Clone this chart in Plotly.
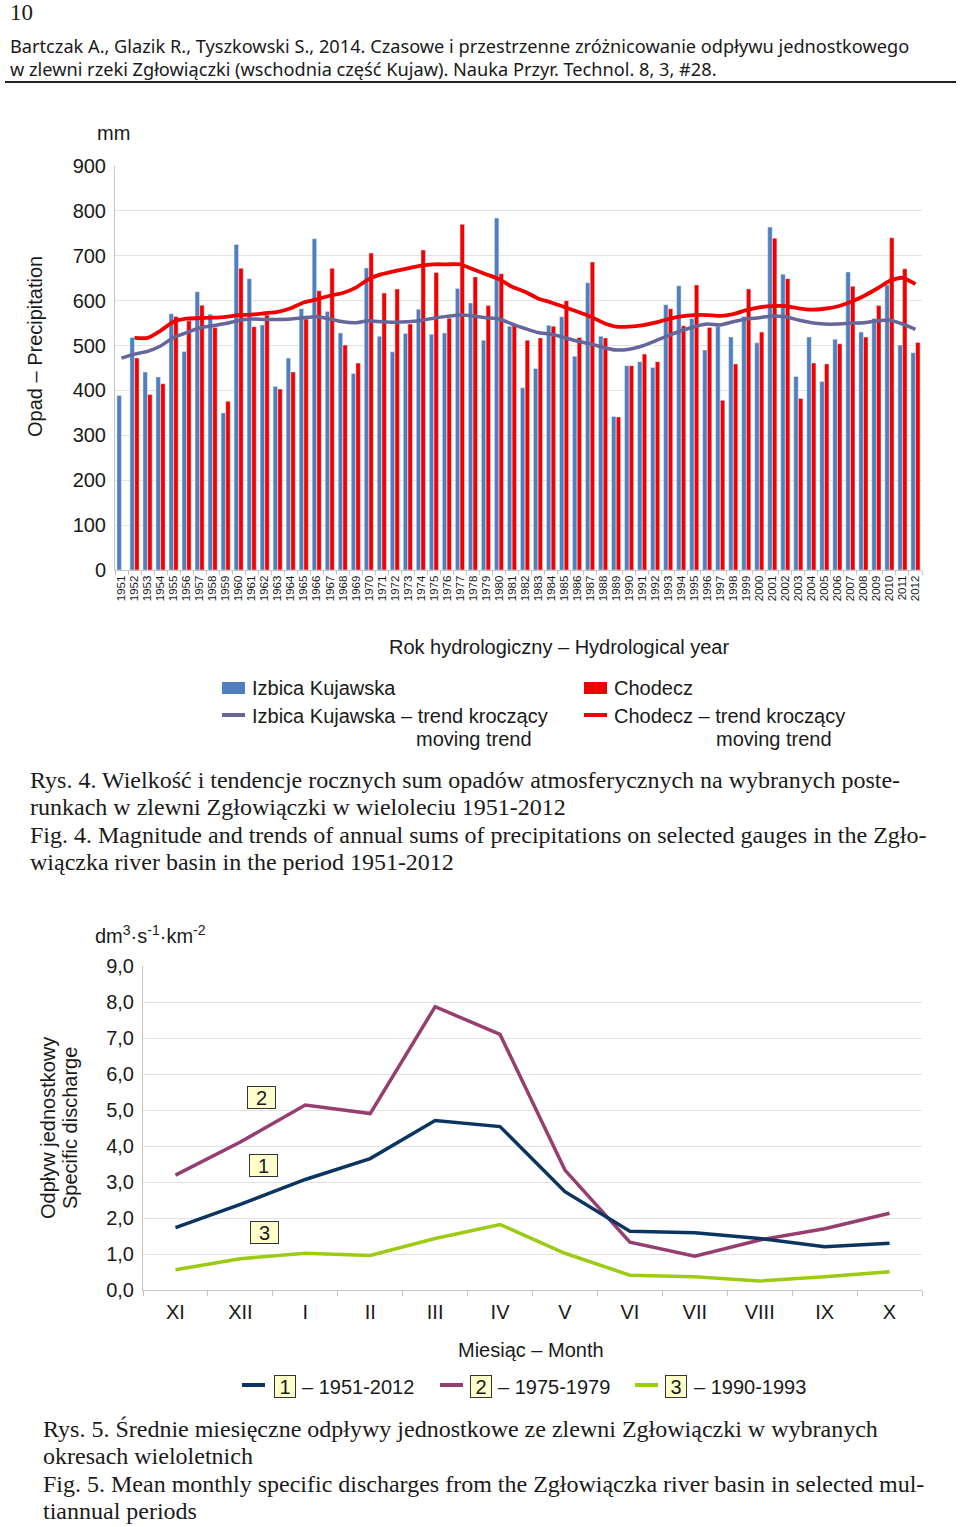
import plotly.graph_objects as go

W, H = 960, 1527

# ---------------- data: Fig. 4 ----------------
years = list(range(1951, 2013))
izbica = [389, 518, 441, 430, 571, 487, 620, 570, 350, 725,
          649, 546, 409, 472, 582, 738, 576, 528, 438, 673,
          521, 486, 527, 581, 525, 528, 627, 595, 512, 784,
          543, 406, 449, 545, 564, 476, 640, 521, 342, 455,
          464, 451, 591, 633, 560, 490, 543, 519, 565, 506,
          764, 659, 431, 519, 420, 514, 664, 530, 560, 635,
          501, 484]
chodecz = [None, 472, 391, 415, 565, 555, 590, 540, 376, 672,
           542, 568, 403, 441, 559, 622, 672, 501, 461, 706,
           617, 626, 548, 713, 663, 561, 770, 653, 589, 660,
           545, 512, 517, 543, 600, 518, 686, 517, 341, 455,
           481, 464, 582, 544, 635, 540, 378, 459, 626, 530,
           739, 649, 382, 461, 459, 504, 632, 519, 589, 740,
           671, 507]
izbica_trend = [472, 481, 487, 499, 518, 529, 539, 544, 549, 556,
                559, 558, 558, 559, 562, 564, 559, 553, 551, 555,
                553, 552, 553, 556, 561, 565, 568, 566, 562, 559,
                548, 538, 529, 525, 518, 510, 504, 496, 490, 492,
                499, 510, 522, 533, 542, 548, 546, 553, 559, 562,
                566, 564, 557, 551, 548, 548, 550, 551, 555, 557,
                548, 536]
chodecz_trend = [None, 517, 517, 533, 553, 560, 561, 562, 564, 568,
                 569, 572, 575, 583, 596, 603, 611, 617, 629, 648,
                 659, 666, 672, 678, 681, 681, 681, 670, 659, 648,
                 631, 620, 605, 596, 586, 576, 565, 551, 542, 542,
                 545, 551, 559, 565, 568, 568, 566, 570, 579, 585,
                 588, 588, 583, 580, 582, 587, 597, 610, 626, 644,
                 651, 637]

# ---------------- data: Fig. 5 ----------------
months = ["XI", "XII", "I", "II", "III", "IV", "V", "VI", "VII", "VIII", "IX", "X"]
q_1951_2012 = [1.73, 2.38, 3.07, 3.65, 4.71, 4.54, 2.73, 1.63, 1.59, 1.43, 1.20, 1.30]
q_1975_1979 = [3.19, 4.11, 5.14, 4.90, 7.87, 7.10, 3.33, 1.33, 0.94, 1.39, 1.70, 2.13]
q_1990_1993 = [0.56, 0.87, 1.02, 0.96, 1.43, 1.82, 1.02, 0.41, 0.37, 0.25, 0.37, 0.51]
y2_ticks = [0, 1, 2, 3, 4, 5, 6, 7, 8, 9]
y2_ticktext = ["0,0", "1,0", "2,0", "3,0", "4,0", "5,0", "6,0", "7,0", "8,0", "9,0"]

# ---------------- styling ----------------
C_BLUE = "#4f7fbf"
C_RED = "#f00000"
C_BTREND = "#65669a"
C_NAVY = "#0b3560"
C_PURPLE = "#963e6e"
C_GREEN = "#9dcb14"
SANS = "Liberation Sans, Arial, sans-serif"
SERIF = "Liberation Serif, Times New Roman, serif"
HDR = "Noto Sans, DejaVu Sans, sans-serif"
TXT = "#1a1a1a"
FS = 20        # chart text size
FCAP = 24      # caption size


def px(x):
    return x / W


def py(y):
    return 1 - y / H


fig = go.Figure()

# Fig. 4 traces
fig.add_trace(go.Bar(x=years, y=izbica, marker_color=C_BLUE, name="Izbica Kujawska",
                     xaxis="x", yaxis="y"))
fig.add_trace(go.Bar(x=years, y=chodecz, marker_color=C_RED, name="Chodecz",
                     xaxis="x", yaxis="y"))
fig.add_trace(go.Scatter(x=years, y=izbica_trend, mode="lines",
                         line=dict(color=C_BTREND, width=3.5, shape="spline", smoothing=0.6),
                         xaxis="x", yaxis="y"))
fig.add_trace(go.Scatter(x=years, y=chodecz_trend, mode="lines",
                         line=dict(color=C_RED, width=3.8, shape="spline", smoothing=0.6),
                         xaxis="x", yaxis="y"))

# Fig. 5 traces
mx = list(range(len(months)))
for ys, col in [(q_1975_1979, C_PURPLE), (q_1951_2012, C_NAVY), (q_1990_1993, C_GREEN)]:
    fig.add_trace(go.Scatter(x=mx, y=ys, mode="lines", line=dict(color=col, width=3.5),
                             xaxis="x2", yaxis="y2"))

GRID = "#e2e2e2"
AXL = "#c4c4c4"

fig.update_layout(
    width=W, height=H, margin=dict(l=0, r=0, t=0, b=0, autoexpand=False),
    paper_bgcolor="white", plot_bgcolor="white", showlegend=False,
    barmode="group", bargap=0.28, bargroupgap=0.05,
    font=dict(family=SANS, color=TXT),
    xaxis=dict(domain=[px(115), px(922)], anchor="y", range=[1950.5, 2012.5],
               tickmode="array", tickvals=years, ticktext=[str(y) for y in years],
               tickangle=-90, tickfont=dict(size=11.5, color=TXT), ticks="",
               showline=True, linecolor=AXL, linewidth=1, showgrid=False, zeroline=False,
               automargin=False,
               minor=dict(tick0=1950.5, dtick=1, ticks="outside", ticklen=4, tickcolor=AXL,
                          showgrid=False)),
    yaxis=dict(domain=[py(570), py(166)], anchor="x", range=[0, 900], dtick=100,
               tickfont=dict(size=FS, color=TXT), showgrid=True, gridcolor=GRID,
               showline=True, linecolor=AXL, zeroline=False, ticks="", ticklabelstandoff=4,
               automargin=False),
    xaxis2=dict(domain=[px(143), px(922)], anchor="y2", range=[-0.5, 11.5],
                tickmode="array", tickvals=mx, ticktext=months,
                tickfont=dict(size=FS, color=TXT), ticks="", ticklabelstandoff=4,
                showline=True, linecolor=AXL, showgrid=False, zeroline=False, automargin=False,
                minor=dict(tick0=-0.5, dtick=1, ticks="outside", ticklen=5, tickcolor=AXL,
                           showgrid=False)),
    yaxis2=dict(domain=[py(1290), py(966)], anchor="x2", range=[0, 9],
                tickmode="array", tickvals=y2_ticks, ticktext=y2_ticktext,
                tickfont=dict(size=FS, color=TXT), showgrid=True, gridcolor=GRID,
                showline=True, linecolor=AXL, zeroline=False, ticks="", ticklabelstandoff=4,
                automargin=False),
)

ann = []
shapes = []


def text(x, y, s, size=FS, family=SANS, anchor="left", angle=0, color=TXT, yanchor="middle"):
    ann.append(dict(x=px(x), y=py(y), xref="paper", yref="paper", text=s, showarrow=False,
                    xanchor=anchor, yanchor=yanchor, textangle=angle,
                    font=dict(size=size, family=family, color=color)))


def box(x, y, s, w, h):
    ann.append(dict(x=px(x), y=py(y), xref="paper", yref="paper", text=s, showarrow=False,
                    xanchor="center", yanchor="middle", width=w, height=h, align="center",
                    bgcolor="#ffffcc", bordercolor="#333", borderwidth=1, borderpad=1,
                    font=dict(size=FS, family=SANS, color=TXT)))


# header
text(8, 12, "10", size=23, family=SERIF)
text(8, 46, "Bartczak A., Glazik R., Tyszkowski S., 2014. Czasowe i przestrzenne zróżnicowanie odpływu jednostkowego",
     size=18.2, family=HDR)
text(8, 69, "w zlewni rzeki Zgłowiączki (wschodnia część Kujaw). Nauka Przyr. Technol. 8, 3, #28.",
     size=18.2, family=HDR)
shapes.append(dict(type="line", xref="paper", yref="paper", x0=px(5), x1=px(956), y0=py(82), y1=py(82),
                   line=dict(color="#222", width=1.8)))

# Fig. 4 text
text(113, 133, "mm", anchor="center")
text(35, 347, "Opad – Precipitation", anchor="center", angle=-90)
text(559, 647, "Rok hydrologiczny – Hydrological year", anchor="center")

# legend Fig. 4
shapes.append(dict(type="rect", xref="paper", yref="paper", x0=px(222), x1=px(245), y0=py(694), y1=py(682),
                   fillcolor=C_BLUE, line=dict(width=0)))
shapes.append(dict(type="rect", xref="paper", yref="paper", x0=px(584), x1=px(607), y0=py(694), y1=py(682),
                   fillcolor=C_RED, line=dict(width=0)))
shapes.append(dict(type="line", xref="paper", yref="paper", x0=px(222), x1=px(245), y0=py(715), y1=py(715),
                   line=dict(color=C_BTREND, width=4)))
shapes.append(dict(type="line", xref="paper", yref="paper", x0=px(584), x1=px(607), y0=py(715), y1=py(715),
                   line=dict(color=C_RED, width=4)))
text(250, 688, "Izbica Kujawska")
text(250, 716, "Izbica Kujawska – trend kroczący")
text(414, 739, "moving trend")
text(612, 688, "Chodecz")
text(612, 716, "Chodecz – trend kroczący")
text(714, 739, "moving trend")

# caption Fig. 4
text(28, 780, "Rys. 4. Wielkość i tendencje rocznych sum opadów atmosferycznych na wybranych poste-",
     size=FCAP, family=SERIF)
text(28, 807, "runkach w zlewni Zgłowiączki w wieloleciu 1951-2012", size=FCAP, family=SERIF)
text(28, 835, "Fig. 4. Magnitude and trends of annual sums of precipitations on selected gauges in the Zgło-",
     size=FCAP, family=SERIF)
text(28, 862, "wiączka river basin in the period 1951-2012", size=FCAP, family=SERIF)

# Fig. 5 text
text(93, 935, "dm<sup>3</sup>·s<sup>-1</sup>·km<sup>-2</sup>")
text(48, 1128, "Odpływ jednostkowy", anchor="center", angle=-90)
text(70, 1128, "Specific discharge", anchor="center", angle=-90)
text(531, 1350, "Miesiąc – Month", anchor="center")

# in-chart labels
for lbl, x, y in [("2", 261, 1097), ("1", 263, 1165), ("3", 264, 1232)]:
    box(x, y, lbl, 25, 19)

# legend Fig. 5
for (x0, col, lbl, bx, txt_x, rng) in [(242, C_NAVY, "1", 285, 300, "– 1951-2012"),
                                       (440, C_PURPLE, "2", 481, 496, "– 1975-1979"),
                                       (635, C_GREEN, "3", 676, 692, "– 1990-1993")]:
    shapes.append(dict(type="line", xref="paper", yref="paper", x0=px(x0), x1=px(x0 + 23),
                       y0=py(1385), y1=py(1385), line=dict(color=col, width=4)))
    box(bx, 1386, lbl, 18, 19)
    text(txt_x, 1387, rng)

# caption Fig. 5
text(41, 1429, "Rys. 5. Średnie miesięczne odpływy jednostkowe ze zlewni Zgłowiączki w wybranych",
     size=FCAP, family=SERIF)
text(41, 1456, "okresach wieloletnich", size=FCAP, family=SERIF)
text(41, 1484, "Fig. 5. Mean monthly specific discharges from the Zgłowiączka river basin in selected mul-",
     size=FCAP, family=SERIF)
text(41, 1511, "tiannual periods", size=FCAP, family=SERIF)

fig.update_layout(annotations=ann, shapes=shapes)
fig.write_html("out.html", config={"displayModeBar": False},
               post_script="document.body.style.margin='0px';")
